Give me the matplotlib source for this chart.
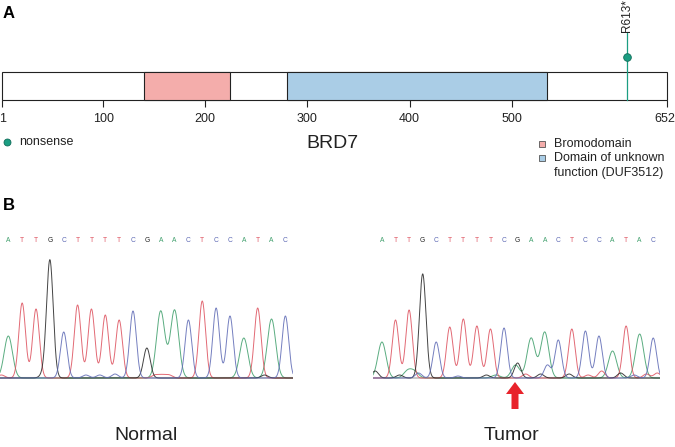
import numpy as np
import matplotlib
matplotlib.use("Agg")
import matplotlib.pyplot as plt
from matplotlib.patches import Rectangle, FancyArrow

plt.rcParams['font.family'] = ['Liberation Sans', 'DejaVu Sans']

# ---- panel A data ----
prot_len = 652
ticks = [1, 100, 200, 300, 400, 500, 652]
dom_names = ["Bromodomain", "Domain of unknown", "function (DUF3512)"]
dom_start = [140, 280]
dom_end = [224, 535]
dom_cols = ["#f4adab", "#aacde6"]
mut_pos = [613]
mut_lab = ["R613*"]
mut_col = "#1b9e82"

# ---- panel B data (Sanger traces) ----
seq = "ATTGCTTTTCGAACTCCATAC"
# main peaks: one per base call, heights in px above baseline
normal_h = [42, 75, 69, 118, 46, 73, 69, 63, 58, 67, 30, 67, 68, 58, 77, 70, 62, 40, 70, 59, 62]
tumor_h = [36, 58, 68, 102, 36, 51, 59, 52, 49, 50, 15, 40, 46, 38, 49, 47, 42, 27, 52, 44, 40]
# extra small peaks (position, height, base)
normal_extra = [(-0.5, 3, "T"), (2.5, 3, "G"), (5.6, 3, "C"), (6.6, 3, "C"), (7.7, 4, "C"),
                (10.6, 3, "T"), (11.1, 3, "T"), (11.6, 3, "T"), (18.5, 3, "G")]
tumor_extra = [(-0.5, 7, "G"), (1.3, 3, "G"), (1.9, 7, "A"), (2.4, 6, "A"), (2.7, 5, "C"),
               (3.2, 3, "G"), (5.6, 2, "C"), (7.7, 3, "G"), (8.4, 3, "A"),
               (9.85, 13, "A"), (10.6, 4, "T"), (11.7, 4, "G"), (12.2, 13, "C"),
               (13.8, 4, "G"), (15.2, 3, "T"), (16.2, 7, "T"), (17.6, 5, "G"),
               (18.6, 3, "C"), (19.5, 4, "T"), (20.3, 5, "T")]

base_col = {"A": "#3d9e6a", "T": "#dd4f5c", "G": "#222222", "C": "#5c68b4"}
wide = {"A": 0.30}

W, H = 675, 447
fig = plt.figure(figsize=(W / 100, H / 100), dpi=100)

def frac(x0, y0, x1, y1):
    # pixel box -> figure fraction rect
    return [x0 / W, 1 - y1 / H, (x1 - x0) / W, (y1 - y0) / H]

# overlay in pixel coords for labels
ov = fig.add_axes([0, 0, 1, 1])
ov.set_xlim(0, W)
ov.set_ylim(H, 0)
ov.axis("off")

# ---- panel A ----
axA = fig.add_axes(frac(2, 0, 667, 190))
axA.set_xlim(1, prot_len)
axA.set_ylim(190, 0)
axA.axis("off")
axA.add_patch(Rectangle((1, 72), prot_len - 1, 28, fc="white", ec="#222222", lw=0.8, clip_on=False))
for s, e, c in zip(dom_start, dom_end, dom_cols):
    axA.add_patch(Rectangle((s, 72), e - s, 28, fc=c, ec="#222222", lw=0.8, clip_on=False))
axA.vlines(ticks, 100, 107, color="#222222", lw=0.8, clip_on=False)
for t in ticks:
    ha = "center"
    if t == 1:
        ha = "left"
    if t == prot_len:
        ha = "right"
    dx = -3 if t == 1 else (8 if t == prot_len else 0)
    axA.text(t + dx, 119, str(t), ha=ha, va="center", fontsize=9, color="#222222", clip_on=False)
for p, lab in zip(mut_pos, mut_lab):
    axA.plot([p, p], [100, 33], color=mut_col, lw=0.9, clip_on=False)
    axA.plot(p, 57, "o", ms=5.5, mfc=mut_col, mec="#0f6b58", mew=0.6, clip_on=False)
    axA.text(p, 32, lab, rotation=90, ha="center", va="bottom", fontsize=8.5, color="#222222", clip_on=False)

ov.text(3, 13, "A", fontsize=12, fontweight="bold", va="center", ha="left")
ov.plot(7, 142, "o", ms=5, mfc=mut_col, mec="#0f6b58", mew=0.6)
ov.text(19, 142, "nonsense", fontsize=9, va="center", ha="left", color="#222222")
ov.text(332, 143, "BRD7", fontsize=14, va="center", ha="center", color="#222222")
leg_y = [144, 158, 173]
for k, (yy, nm) in enumerate(zip(leg_y, dom_names)):
    if k < len(dom_cols):
        ov.add_patch(Rectangle((539, yy - 3), 6, 6, fc=dom_cols[k], ec="#555555", lw=0.6))
    ov.text(554, yy, nm, fontsize=9, va="center", ha="left", color="#222222")

# ---- panel B ----
ov.text(3, 206, "B", fontsize=12, fontweight="bold", va="center", ha="left")

def trace(ax, heights, extra, xmin, xmax):
    x = np.linspace(xmin, xmax, 1500)
    peaks = [(i, h, b) for i, (h, b) in enumerate(zip(heights, seq))] + list(extra)
    for b in "ATGC":
        y = np.zeros_like(x)
        for p, h, bb in peaks:
            if bb != b:
                continue
            s = wide.get(b, 0.24)
            y += h * np.exp(-0.5 * ((x - p) / s) ** 2)
        ax.plot(x, y, color=base_col[b], lw=0.7, alpha=0.85)
    ax.axhline(0, color="#c8c8c8", lw=1.5, zorder=0)
    for i, b in enumerate(seq):
        ax.text(i, 138, b, ha="center", va="center", fontsize=4.8, color=base_col[b], clip_on=False)
    ax.set_xlim(xmin, xmax)
    ax.set_ylim(-1, 130)
    ax.axis("off")

axN = fig.add_axes(frac(0, 248, 293, 379))
trace(axN, normal_h, normal_extra, -0.6, 20.55)
axT = fig.add_axes(frac(373, 248, 660, 379))
trace(axT, tumor_h, tumor_extra, -0.66, 20.5)

ov.add_patch(FancyArrow(515, 409, 0, -15, width=7, head_width=18, head_length=12,
                        length_includes_head=False, color="#e8232b", lw=0))
ov.text(146, 435, "Normal", fontsize=14, ha="center", va="center", color="#222222")
ov.text(511, 435, "Tumor", fontsize=14, ha="center", va="center", color="#222222")

fig.savefig("out.png", dpi=100)
